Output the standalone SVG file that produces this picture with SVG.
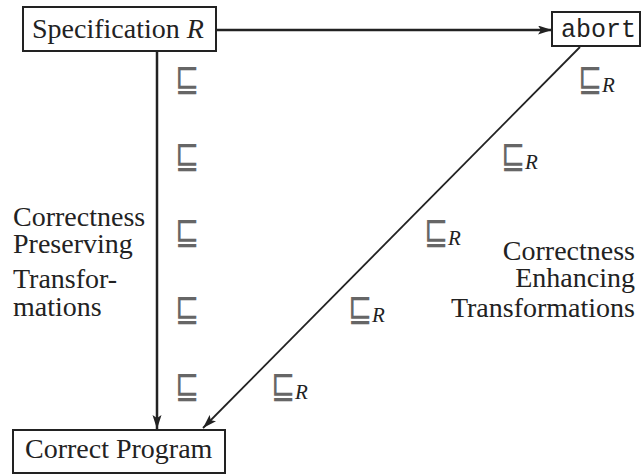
<svg xmlns="http://www.w3.org/2000/svg" width="641" height="474" viewBox="0 0 641 474">
<style>
.box{fill:#fff;stroke:#222;stroke-width:2}
.t{font-family:"Liberation Serif","Times New Roman",serif;font-size:28px;fill:#222}
.mono{font-family:"Liberation Mono","Courier New",monospace;font-size:25px;fill:#222}
.rel{font-family:"DejaVu Sans",sans-serif;font-size:29px;fill:#666}
.sub{font-family:"Liberation Serif","Times New Roman",serif;font-style:italic;font-size:21px;fill:#222}
.ln{stroke:#222;fill:none}
</style>
<defs>
<marker id="ah" markerUnits="userSpaceOnUse" markerWidth="14" markerHeight="10" refX="14" refY="4.5" orient="auto">
<path d="M0,0 L14,4.5 L0,9 L3,4.5 z" fill="#222"/>
</marker>
</defs>
<g id="connectors">
<line class="ln" x1="216" y1="30" x2="552" y2="30" stroke-width="2.5" marker-end="url(#ah)"/>
<line class="ln" x1="157" y1="51" x2="157" y2="429" stroke-width="2.5" marker-end="url(#ah)"/>
<line class="ln" x1="580" y1="47" x2="203" y2="428" stroke-width="1.8" marker-end="url(#ah)"/>
</g>
<g id="spec">
<rect class="box" x="23" y="7" width="193" height="44"/>
<text class="t" x="32" y="38">Specification <tspan font-style="italic">R</tspan></text>
</g>
<g id="abort">
<rect class="box" x="552" y="12" width="88" height="34"/>
<text class="mono" x="561" y="37">abort</text>
</g>
<g id="program">
<rect class="box" x="13" y="430" width="212" height="43"/>
<text class="t" x="25" y="458">Correct Program</text>
</g>
<g id="labels-left">
<text class="t" x="13" y="226">Correctness</text>
<text class="t" x="13" y="253">Preserving</text>
<text class="t" x="13" y="288">Transfor-</text>
<text class="t" x="13" y="316">mations</text>
</g>
<g id="labels-right">
<text class="t" x="635" y="260" text-anchor="end">Correctness</text>
<text class="t" x="635" y="287" text-anchor="end">Enhancing</text>
<text class="t" x="635" y="317" text-anchor="end">Transformations</text>
</g>
<g id="refines">
<text class="rel" transform="translate(175,91) scale(1,1.3)">⊑</text>
<text class="rel" transform="translate(175,168) scale(1,1.3)">⊑</text>
<text class="rel" transform="translate(175,244) scale(1,1.3)">⊑</text>
<text class="rel" transform="translate(175,321) scale(1,1.3)">⊑</text>
<text class="rel" transform="translate(175,398) scale(1,1.3)">⊑</text>
</g>
<g id="refines-r">
<text class="rel" transform="translate(578,91) scale(1,1.3)">⊑</text>
<text class="sub" x="602" y="92">R</text>
<text class="rel" transform="translate(501,168) scale(1,1.3)">⊑</text>
<text class="sub" x="525" y="169">R</text>
<text class="rel" transform="translate(424,244) scale(1,1.3)">⊑</text>
<text class="sub" x="448" y="245">R</text>
<text class="rel" transform="translate(348,321) scale(1,1.3)">⊑</text>
<text class="sub" x="372" y="322">R</text>
<text class="rel" transform="translate(271,398) scale(1,1.3)">⊑</text>
<text class="sub" x="295" y="399">R</text>
</g>
</svg>
